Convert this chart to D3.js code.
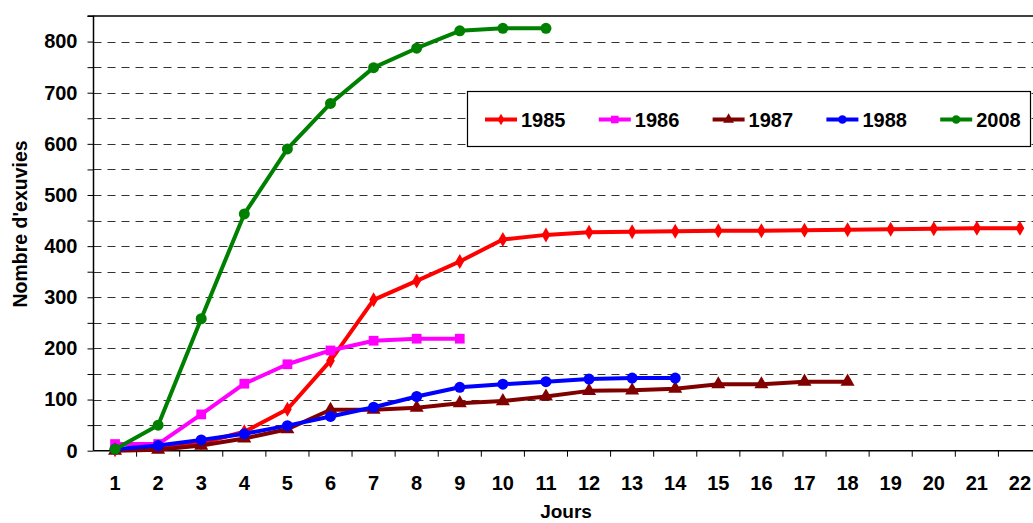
<!DOCTYPE html>
<html><head><meta charset="utf-8">
<script src="https://cdn.jsdelivr.net/npm/d3@7"></script>
<style>body{margin:0;background:#fff}svg{display:block}text{font-family:"Liberation Sans",Arial,sans-serif;font-weight:bold;fill:#000}</style>
</head><body><svg id="c" width="1033" height="523"></svg>
<script>
const days = d3.range(1, 23);
const yTicks = [0,100,200,300,400,500,600,700,800];
const s1985 = [2,8,15,37,81,176,295,332,370,413,422,427,428,429,430,430,431,432,433,434,435,435];
const s1986 = [13,13,71,131,169,196,215,219,219];
const s1987 = [0,2,10,24,42,80,80,84,93,97,106,117,118,121,130,130,135,135];
const s1988 = [3,10,21,33,49,67,85,106,124,130,135,140,142,142];
const s2008 = [3,50,258,463,590,679,749,787,821,826,826];
const seriesNames = ["1985","1986","1987","1988","2008"];
const seriesData = [s1985,s1986,s1987,s1988,s2008];
const colors = ["#FF0000","#FF00FF","#800000","#0000FF","#008000"];
const markers = [d3.symbolDiamond,d3.symbolSquare,d3.symbolTriangle,d3.symbolCircle,d3.symbolCircle];
const markerSize = [65,95,85,95,95];

const svg = d3.select("#c");
const pL=93.5, pR=1041.5, pT=16, pB=450.7;
const x = d3.scaleBand().domain(days).range([pL,pR]);
const cx = d => x(d)+x.bandwidth()/2;
const y = d3.scaleLinear().domain([0,850]).range([pB,pT]);

// gridlines
svg.append("g").selectAll("line").data(d3.range(50,850,50)).join("line")
  .attr("x1",pL).attr("x2",1033).attr("y1",d=>Math.round(y(d))+0.5).attr("y2",d=>Math.round(y(d))+0.5)
  .attr("stroke","#333").attr("stroke-width",1).attr("stroke-dasharray","8,6");
// top border
svg.append("line").attr("x1",pL).attr("x2",1033).attr("y1",pT).attr("y2",pT).attr("stroke","#000").attr("stroke-width",1.5);
svg.append("line").attr("x1",pR).attr("x2",pR).attr("y1",pT).attr("y2",pB).attr("stroke","#000");

// y axis
const yAxis = d3.axisLeft(y).tickValues(d3.range(0,851,50)).tickSize(6).tickPadding(10)
  .tickFormat(d => yTicks.includes(d) ? d : "");
const gy = svg.append("g").attr("transform",`translate(${pL},0)`).call(yAxis);
gy.select(".domain").attr("stroke","#000").attr("stroke-width",1.5).attr("d",`M-6,${pT}H0V${pB}`);
gy.selectAll("line").attr("stroke","#000");
gy.selectAll("text").style("font-size","20px").style("font-family","Liberation Sans, Arial, sans-serif").style("font-weight","bold").attr("fill","#000");

// x axis
const gx = svg.append("g").attr("transform",`translate(0,${pB})`);
gx.append("line").attr("x1",pL).attr("x2",1033).attr("y1",0).attr("y2",0).attr("stroke","#000").attr("stroke-width",1.5);
gx.selectAll(".tk").data(days).join("line").attr("class","tk")
  .attr("x1",d=>x(d)+x.bandwidth()).attr("x2",d=>x(d)+x.bandwidth()).attr("y1",0).attr("y2",6).attr("stroke","#000");
gx.selectAll(".lb").data(days).join("text").attr("class","lb")
  .attr("x",d=>cx(d)).attr("y",39).attr("text-anchor","middle").style("font-size","20px").text(d=>d);

// titles
svg.append("text").attr("x",566).attr("y",518).attr("text-anchor","middle").style("font-size","19px").text("Jours");
svg.append("text").attr("transform",`translate(27,224) rotate(-90)`).attr("text-anchor","middle").style("font-size","19.5px").text("Nombre d'exuvies");

// series
const line = d3.line().x((d,i)=>cx(days[i])).y(d=>y(d));
seriesData.forEach((data,k)=>{
  const g = svg.append("g");
  g.append("path").datum(data).attr("d",line).attr("fill","none").attr("stroke",colors[k]).attr("stroke-width",4).attr("stroke-linejoin","round");
  g.selectAll("path.m").data(data).join("path").attr("class","m")
    .attr("d",d3.symbol().type(markers[k]).size(markerSize[k]))
    .attr("transform",(d,i)=>`translate(${cx(days[i])},${y(d)})`).attr("fill",colors[k]);
});

// legend
const lg = svg.append("g");
lg.append("rect").attr("x",467.5).attr("y",91.5).attr("width",563).attr("height",55).attr("fill","#fff").attr("stroke","#000").attr("stroke-width",1.2);
seriesNames.forEach((n,k)=>{
  const lx = 485 + k*113.8, ly = 119.5;
  lg.append("line").attr("x1",lx).attr("x2",lx+32).attr("y1",ly).attr("y2",ly).attr("stroke",colors[k]).attr("stroke-width",4);
  lg.append("path").attr("d",d3.symbol().type(markers[k]).size(markerSize[k]*0.6)).attr("transform",`translate(${lx+16},${ly})`).attr("fill",colors[k]);
  lg.append("text").attr("x",lx+36).attr("y",ly+7).style("font-size","20px").text(n);
});
</script></body></html>
